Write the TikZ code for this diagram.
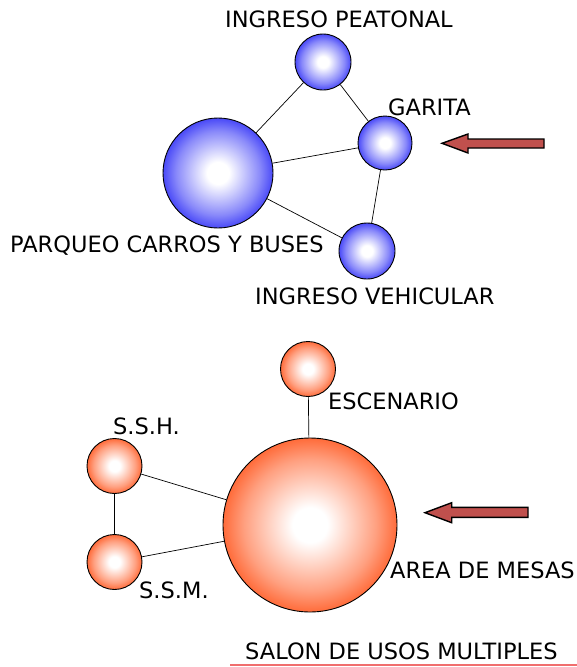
\documentclass[tikz,border=0pt]{standalone}
\usepackage{fontspec}
\setmainfont{DejaVu Sans}
\definecolor{bblue}{RGB}{20,20,245}
\definecolor{borange}{RGB}{255,64,0}
\definecolor{arrowred}{RGB}{192,80,77}
\definecolor{ulred}{RGB}{240,110,110}
\pgfdeclareradialshading{blueball}{\pgfpoint{0bp}{0bp}}{color(0bp)=(white); color(5bp)=(white); color(19bp)=(bblue!50!white); color(30bp)=(bblue); color(50bp)=(bblue)}
\pgfdeclareradialshading{orangeball}{\pgfpoint{0bp}{0bp}}{color(0bp)=(white); color(5bp)=(white); color(19bp)=(borange!50!white); color(30bp)=(borange); color(50bp)=(borange)}
\begin{document}
\begin{tikzpicture}[x=1pt,y=-1pt,
  ballb/.style={circle, draw=black, line width=0.9pt, inner sep=0pt, shading=blueball, minimum size=#1},
  ballo/.style={circle, draw=black, line width=0.9pt, inner sep=0pt, shading=orangeball, minimum size=#1},
  link/.style={draw=black, line width=0.7pt},
  lbl/.style={font=\fontsize{22.5}{26}\selectfont, inner sep=0pt, anchor=west, text=black},
  bigarrow/.style={fill=arrowred, draw=black, line width=1.4pt, line join=miter},
  underl/.style={draw=ulred, line width=1.3pt}]
\useasboundingbox (0,0) rectangle (577,667);
% top group
\node[ballb=56pt] (pea) at (323,62) {};
\node[ballb=110pt] (par) at (218,173) {};
\node[ballb=54pt] (gar) at (385,143) {};
\node[ballb=56pt] (veh) at (367,251) {};
\draw[link] (par) -- (pea);
\draw[link] (pea) -- (gar);
\draw[link] (par) -- (gar);
\draw[link] (par) -- (veh);
\draw[link] (gar) -- (veh);
\node[lbl] (tpea) at (225,19) {INGRESO PEATONAL};
\node[lbl] (tgar) at (388,107) {GARITA};
\node[lbl] (tpar) at (10,246) {PARQUEO CARROS Y BUSES};
\node[lbl] (tveh) at (255,296) {INGRESO VEHICULAR};
\draw[bigarrow] (544,139) -- (468,139) -- (468,134) -- (442,143.3) -- (468,153) -- (468,148) -- (544,148) -- cycle;
% bottom group
\node[ballo=55pt] (esc) at (308,369) {};
\node[ballo=174pt] (mes) at (310,525) {};
\node[ballo=55pt] (ssh) at (114.5,466) {};
\node[ballo=55pt] (ssm) at (114.5,562) {};
\draw[link] (esc) -- (mes);
\draw[link] (ssh) -- (mes);
\draw[link] (ssm) -- (mes);
\draw[link] (ssh) -- (ssm);
\node[lbl] (tesc) at (328,401) {ESCENARIO};
\node[lbl] (tssh) at (113,426) {S.S.H.};
\node[lbl] (tssm) at (139,590) {S.S.M.};
\node[lbl] (tmes) at (390,570) {AREA DE MESAS};
\draw[bigarrow] (528,507.3) -- (451.7,507.3) -- (451.7,502.7) -- (425,512.7) -- (451.7,522.7) -- (451.7,517.3) -- (528,517.3) -- cycle;
\node[lbl] (tsal) at (245,651) {SALON DE USOS MULTIPLES};
\coordinate (ula) at (230,665);
\coordinate (ulb) at (577,665);
\draw[underl] (ula) -- (ulb);
\end{tikzpicture}
\end{document}
